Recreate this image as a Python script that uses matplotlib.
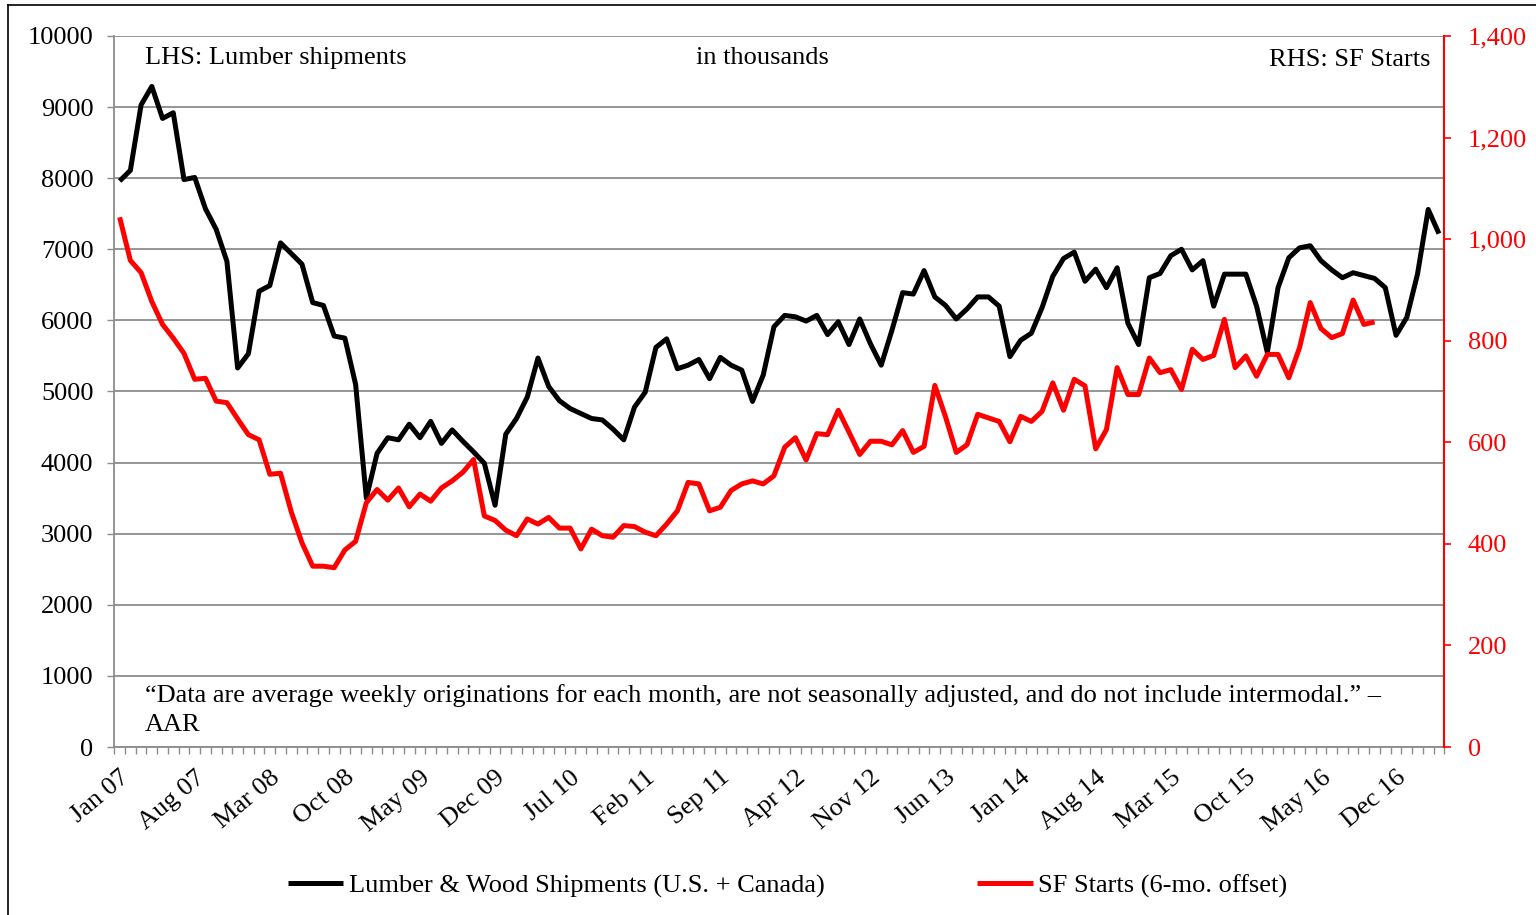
import numpy as np
import pandas as pd
import matplotlib
matplotlib.use('Agg')
import matplotlib.pyplot as plt
from matplotlib.lines import Line2D
from matplotlib.ticker import FuncFormatter, MultipleLocator

# Lumber & Wood shipments (thousands), monthly Jan 07 - Apr 17 (LHS)
lumber = [7960, 8110, 9030, 9290, 8840, 8920, 7980, 8010, 7570, 7280,
          6830, 5330, 5530, 6410, 6490, 7090, 6940, 6790, 6250, 6210,
          5780, 5750, 5100, 3500, 4130, 4350, 4320, 4540, 4350, 4580,
          4270, 4460, 4300, 4150, 3990, 3400, 4400, 4620, 4920, 5470,
          5070, 4870, 4760, 4690, 4620, 4600, 4470, 4320, 4780, 4990,
          5620, 5740, 5320, 5370, 5450, 5180, 5480, 5370, 5300, 4860,
          5230, 5910, 6070, 6050, 5990, 6070, 5800, 5980, 5660, 6020,
          5670, 5370, 5860, 6390, 6370, 6700, 6330, 6210, 6020, 6160,
          6330, 6330, 6200, 5490, 5720, 5820, 6180, 6620, 6870, 6960,
          6550, 6720, 6460, 6740, 5960, 5660, 6600, 6660, 6910, 7000,
          6710, 6840, 6200, 6650, 6650, 6650, 6200, 5550, 6460, 6880,
          7020, 7050, 6840, 6710, 6600, 6670, 6630, 6590, 6460, 5790,
          6040, 6650, 7560, 7220]

# SF Starts (thousands, 6-mo. offset) (RHS)
sf_starts = [1043, 958, 934, 877, 832, 805, 775, 724, 726, 681,
             678, 646, 615, 605, 537, 539, 463, 402, 356, 356,
             353, 388, 405, 481, 507, 486, 510, 473, 498, 484,
             510, 524, 541, 566, 455, 446, 427, 416, 449, 439,
             452, 431, 431, 390, 429, 416, 413, 436, 434, 423,
             416, 439, 465, 521, 518, 465, 472, 505, 518, 524,
             518, 534, 590, 609, 565, 617, 615, 663, 620, 576,
             602, 602, 595, 623, 580, 592, 712, 650, 580, 595,
             655, 648, 641, 601, 651, 641, 661, 717, 663, 724,
             711, 587, 625, 747, 694, 694, 766, 737, 743, 704,
             783, 763, 771, 842, 747, 770, 730, 773, 773, 727,
             786, 875, 824, 806, 814, 880, 832, 837]

months = pd.date_range('2007-01-01', periods=len(lumber), freq='MS')
month_labels = [d.strftime('%b %y') for d in months]
label_step = 7

lhs_note = "LHS: Lumber shipments"
mid_note = "in thousands"
rhs_note = "RHS: SF Starts"
source_note = ("\u201cData are average weekly originations for each month, are not seasonally "
               "adjusted, and do not include intermodal.\u201d \u2013\nAAR")
legend_labels = ["Lumber & Wood Shipments (U.S. + Canada)", "SF Starts (6-mo. offset)"]

plt.rcParams['font.family'] = ['Liberation Serif', 'DejaVu Serif']

GRAY = '#8c8c8c'
RED = '#ff0000'
FS = 19

fig = plt.figure(figsize=(15.36, 9.15), dpi=100)
ax = fig.add_axes([0.0744, 0.1836, 0.8659, 0.7771])
ax2 = ax.twinx()

x = np.arange(len(lumber))
l1, = ax.plot(x, lumber, color='black', lw=3.6, solid_joinstyle='round', solid_capstyle='butt')
l2, = ax2.plot(np.arange(len(sf_starts)), sf_starts, color=RED, lw=3.6,
               solid_joinstyle='round', solid_capstyle='butt')

ax.set_xlim(-0.5, len(lumber) - 0.5)
ax.set_ylim(0, 10000)
ax2.set_ylim(0, 1400)
ax.yaxis.set_major_locator(MultipleLocator(1000))
ax2.yaxis.set_major_locator(MultipleLocator(200))
ax2.yaxis.set_major_formatter(FuncFormatter(lambda v, p: f'{int(v):,}'))
ax.grid(axis='y', color=GRAY, lw=1.3)
ax.set_axisbelow(True)

label_idx = list(range(0, len(lumber), label_step))
ax.set_xticks(label_idx)
ax.set_xticklabels([month_labels[i] for i in label_idx], rotation=40, ha='right',
                   rotation_mode='anchor', fontsize=FS)
ax.set_xticks(np.arange(-0.5, len(lumber), 1), minor=True)
ax.tick_params(axis='x', which='major', length=0, pad=14)
ax.tick_params(axis='x', which='minor', length=5, width=1, color=GRAY)
ax.tick_params(axis='y', which='major', length=5, width=1, color=GRAY, labelsize=FS,
               pad=10, labelcolor='black')
ax2.tick_params(axis='y', which='major', length=5, width=1.2, color=RED, labelsize=FS,
                pad=12, labelcolor=RED)

for a in (ax, ax2):
    a.spines['top'].set_visible(False)
ax.spines['left'].set_color(GRAY)
ax.spines['bottom'].set_color(GRAY)
ax.spines['left'].set_linewidth(1.3)
ax.spines['bottom'].set_linewidth(1.3)
ax.spines['right'].set_visible(False)
ax2.spines['left'].set_visible(False)
ax2.spines['bottom'].set_visible(False)
ax2.spines['right'].set_color(RED)
ax2.spines['right'].set_linewidth(1.5)

ax.text(0.023, 0.969, lhs_note, transform=ax.transAxes, fontsize=FS, va='center', ha='left')
ax.text(0.487, 0.969, mid_note, transform=ax.transAxes, fontsize=FS, va='center', ha='center')
ax.text(0.9895, 0.966, rhs_note, transform=ax.transAxes, fontsize=FS, va='center', ha='right')
ax.text(0.023, 0.052, source_note, transform=ax.transAxes, fontsize=FS, va='center', ha='left',
        linespacing=1.45)

fig.legend(handles=[l1, l2], labels=legend_labels, loc='center',
           bbox_to_anchor=(0.5127, 0.032), ncol=2, frameon=False, fontsize=FS,
           handlelength=2.1, handletextpad=0.2, columnspacing=5.8)

# outer chart frame
fig.add_artist(Line2D([0.0052, 0.0052], [0, 0.9945], transform=fig.transFigure, color='black', lw=1.2))
fig.add_artist(Line2D([0.0052, 1.0], [0.9945, 0.9945], transform=fig.transFigure, color='black', lw=1.2))

fig.savefig('out.png', dpi=100)
